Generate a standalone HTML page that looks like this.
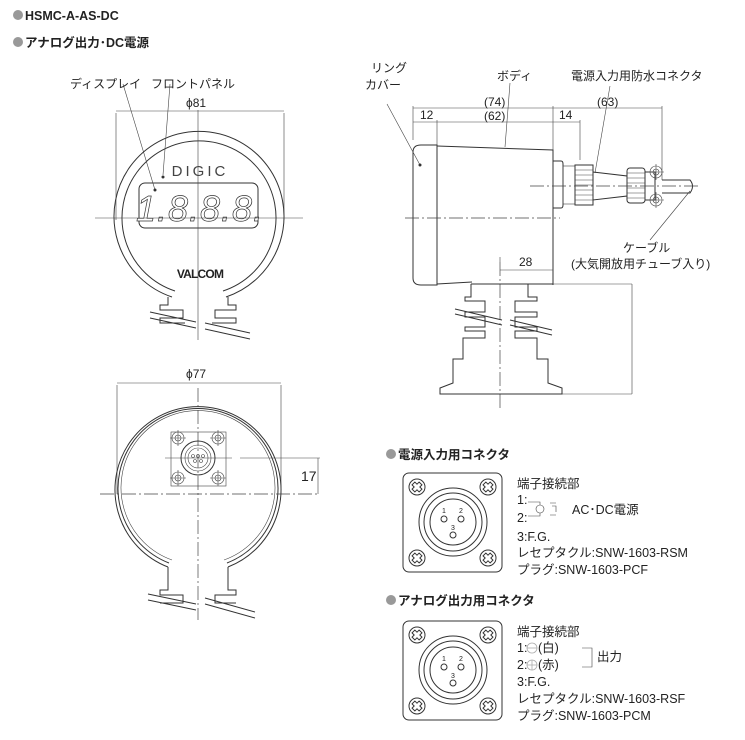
<!DOCTYPE html>
<html><head><meta charset="utf-8"><style>
html,body{margin:0;padding:0;background:#fff}
svg{display:block}
text{font-family:"Liberation Sans","Noto Sans CJK JP",sans-serif;fill:#222}
.l{fill:none;stroke:#333;stroke-width:1}
.t{fill:none;stroke:#444;stroke-width:0.6}
.c{fill:none;stroke:#444;stroke-width:0.7;stroke-dasharray:14 3 2 3}
</style></head><body>
<svg width="745" height="740" viewBox="0 0 745 740" xmlns="http://www.w3.org/2000/svg">
<defs>
<g id="scr"><circle r="8" class="l"/><path class="l" d="M-5,-2 L-2,-2 L-2,-5 L2,-5 L2,-2 L5,-2 L5,2 L2,2 L2,5 L-2,5 L-2,2 L-5,2Z" transform="rotate(45)"/></g>
<g id="hs"><circle r="6" class="t"/><circle r="3" class="t"/><path class="t" d="M-8,0H8M0,-8V8"/></g>
</defs>
<!-- headers -->
<circle cx="18" cy="15" r="5" fill="#999"/>
<text x="25" y="20" font-size="12.5" font-weight="bold">HSMC-A-AS-DC</text>
<circle cx="18" cy="42" r="5" fill="#999"/>
<text x="25" y="47" font-size="12.5" font-weight="bold">アナログ出力･DC電源</text>

<!-- FRONT VIEW -->
<text x="70" y="88" font-size="12">ディスプレイ</text>
<text x="151" y="88" font-size="12">フロントパネル</text>
<text x="186" y="107" font-size="12">ϕ81</text>
<path class="t" d="M116,113V220M284,113V220M116,111H284"/>
<path class="l" d="M172,297 A85,85 0 1 1 226,297"/>
<path class="l" d="M175,291 A77,77 0 1 1 223,291"/>
<rect x="139" y="183" width="119" height="45" rx="6" class="l"/>
<text x="200" y="176" font-size="15" text-anchor="middle" letter-spacing="3" style="fill:#444">DIGIC</text>
<text x="200" y="221" font-size="36" font-style="italic" text-anchor="middle" style="fill:#fff;stroke:#333;stroke-width:0.7" letter-spacing="1">1.8.8.8.</text>
<text x="200" y="278" font-size="12" font-weight="bold" text-anchor="middle" letter-spacing="-0.8">VALCOM</text>
<path class="t" d="M95,218H303M198,110V340"/>
<path class="t" d="M123,84L155,190M170,84L163,175"/>
<circle cx="155" cy="190" r="1.5" fill="#333"/><circle cx="163" cy="177" r="1.5" fill="#333"/>
<path class="l" d="M168,297V305H160V310H183V318H160V323H185M228,297V305H236V310H215V318H236V323H212"/>
<path class="l" d="M150,312L196,322M150,318L196,328M205,323L250,333M205,329L250,339"/>

<!-- BACK VIEW -->
<text x="186" y="378" font-size="12">ϕ77</text>
<path class="t" d="M117,385V494M281,385V494M117,383H281"/>
<path class="l" d="M168,567 A83,83 0 1 1 228,567"/>
<path class="l" d="M169,563 A80,80 0 1 1 227,563"/>
<path class="t" d="M172,560 A77,77 0 1 1 224,560"/>
<path class="c" d="M100,494H320M198,388V620"/>
<rect x="171" y="432" width="55" height="54" class="t"/>
<path class="t" d="M165,458H232M240,458H320M318,458V494"/>
<circle cx="198" cy="458" r="17" class="l"/><circle cx="198" cy="458" r="13" class="t"/><circle cx="198" cy="458" r="10" class="t"/>
<circle cx="193" cy="456" r="1.5" class="t"/><circle cx="198" cy="456" r="1.5" class="t"/><circle cx="203" cy="456" r="1.5" class="t"/><circle cx="195" cy="461" r="1.5" class="t"/><circle cx="201" cy="461" r="1.5" class="t"/>
<use href="#hs" x="178" y="438"/><use href="#hs" x="218" y="438"/><use href="#hs" x="178" y="478"/><use href="#hs" x="218" y="478"/>
<text x="301" y="481" font-size="14">17</text>
<path class="l" d="M168,567V590H160V595H183V603H160M228,567V590H236V595H215V603H236"/>
<path class="l" d="M148,594L196,604M148,600L196,610M205,598L255,612M205,604L255,618"/>

<!-- SIDE VIEW -->
<text x="371" y="72" font-size="12">リング</text>
<text x="365" y="89" font-size="12">カバー</text>
<text x="497" y="80" font-size="12">ボディ</text>
<text x="571" y="80" font-size="12">電源入力用防水コネクタ</text>
<text x="484" y="106" font-size="12">(74)</text>
<text x="484" y="120" font-size="12">(62)</text>
<text x="420" y="119" font-size="12">12</text>
<text x="559" y="119" font-size="12">14</text>
<text x="597" y="106" font-size="12">(63)</text>
<path class="t" d="M413,106V140M553,106V150M662,106V180M413,108H553M553,108H662M413,122H553M437,120V145M580,120V160M553,122H580"/>
<path class="l" d="M437,145H421Q413,145 413,152V278Q413,285 421,285H437V145Z"/>
<path class="l" d="M437,146L553,150V285M437,284L472,282"/>
<path class="t" d="M387,104L420,165M510,83L505,147M610,86L595,173M690,191L650,240"/>
<circle cx="420" cy="165" r="1.5" fill="#333"/>
<!-- connector -->
<path class="l" d="M553,161H561Q563,161 563,164V205Q563,208 561,208H553"/>
<rect x="563" y="166" width="12" height="38" class="t"/>
<rect x="575" y="165" width="18" height="40" class="l"/>
<path class="t" d="M575,170H593M575,175H593M575,180H593M575,185H593M575,190H593M575,195H593M575,200H593"/>
<path class="l" d="M593,172L627,176V196L593,200Z"/>
<rect x="627" y="168" width="18" height="35" rx="3" class="l"/>
<path class="t" d="M627,173H645M627,178H645M627,183H645M627,188H645M627,193H645M627,198H645"/>
<path class="l" d="M645,172H655V200H645"/>
<use href="#hs" x="656" y="172"/><use href="#hs" x="656" y="200"/>
<path class="l" d="M662,180H690Q695,186 690,193H662"/>
<path class="c" d="M530,186H700M405,218H560"/>
<text x="623" y="252" font-size="12">ケーブル</text>
<text x="571" y="268" font-size="12">(大気開放用チューブ入り)</text>
<text x="519" y="266" font-size="12">28</text>
<path class="t" d="M500,270H553M500,257V262"/>
<path class="c" d="M500,262V410"/>
<path class="t" d="M553,284H632M632,284V394M560,394H632"/>
<path class="l" d="M471,284H553M471,284V297H465V301H485V312H465V317H485V327H465V331H485V338H463V359H453V383L440,388V394H562V388L548,383V359H537V338H515V331H537V327H515V317H537V312H515V301H537V297H528V284"/>
<path class="l" d="M455,309L502,320M455,314L502,325M510,320L552,330M510,325L552,335"/>

<!-- CONNECTOR 1 -->
<circle cx="391" cy="454" r="5" fill="#999"/>
<text x="398" y="459" font-size="12.5" font-weight="bold">電源入力用コネクタ</text>
<rect x="403" y="473" width="99" height="99" rx="6" class="l"/>
<use href="#scr" x="417" y="487"/><use href="#scr" x="488" y="487"/><use href="#scr" x="417" y="558"/><use href="#scr" x="488" y="558"/>
<circle cx="453" cy="522" r="34" class="l"/><circle cx="453" cy="522" r="29" class="l"/><circle cx="453" cy="522" r="23" class="l"/>
<circle cx="444" cy="519" r="3" class="l"/><circle cx="461" cy="519" r="3" class="l"/><circle cx="453" cy="535" r="3" class="l"/>
<text x="442" y="513" font-size="7">1</text><text x="459" y="513" font-size="7">2</text><text x="451" y="530" font-size="7">3</text>
<g font-size="12.5"><text x="517" y="488">端子接続部</text>
<text x="517" y="504">1:</text><text x="517" y="522">2:</text>
<text x="572" y="514">AC･DC電源</text>
<text x="517" y="541">3:F.G.</text>
<text x="517" y="557">レセプタクル:SNW-1603-RSM</text>
<text x="517" y="574">プラグ:SNW-1603-PCF</text></g>
<circle cx="540" cy="509" r="4" class="t"/><path class="t" d="M528,502H540V505M528,516H540V513M550,503H556M552,506H556V512M550,515H556"/>

<!-- CONNECTOR 2 -->
<circle cx="391" cy="600" r="5" fill="#999"/>
<text x="398" y="605" font-size="12.5" font-weight="bold">アナログ出力用コネクタ</text>
<rect x="403" y="621" width="99" height="99" rx="6" class="l"/>
<use href="#scr" x="417" y="635"/><use href="#scr" x="488" y="635"/><use href="#scr" x="417" y="706"/><use href="#scr" x="488" y="706"/>
<circle cx="453" cy="670" r="34" class="l"/><circle cx="453" cy="670" r="29" class="l"/><circle cx="453" cy="670" r="23" class="l"/>
<circle cx="444" cy="667" r="3" class="l"/><circle cx="461" cy="667" r="3" class="l"/><circle cx="453" cy="683" r="3" class="l"/>
<text x="442" y="661" font-size="7">1</text><text x="459" y="661" font-size="7">2</text><text x="451" y="678" font-size="7">3</text>
<g font-size="12.5"><text x="517" y="636">端子接続部</text>
<text x="517" y="652">1:</text><text x="538" y="652">(白)</text>
<text x="517" y="669">2:</text><text x="538" y="669">(赤)</text>
<text x="597" y="661">出力</text>
<text x="517" y="686">3:F.G.</text>
<text x="517" y="703">レセプタクル:SNW-1603-RSF</text>
<text x="517" y="720">プラグ:SNW-1603-PCM</text></g>
<circle cx="532" cy="648" r="5" fill="none" stroke="#aaa" stroke-width="0.8"/><path d="M527,648H537" stroke="#aaa" stroke-width="0.8"/>
<circle cx="532" cy="665" r="5" fill="none" stroke="#aaa" stroke-width="0.8"/><path d="M527,665H537M532,660V670" stroke="#aaa" stroke-width="0.8"/>
<path class="t" d="M582,648H592V667H582"/>
</svg>
</body></html>
